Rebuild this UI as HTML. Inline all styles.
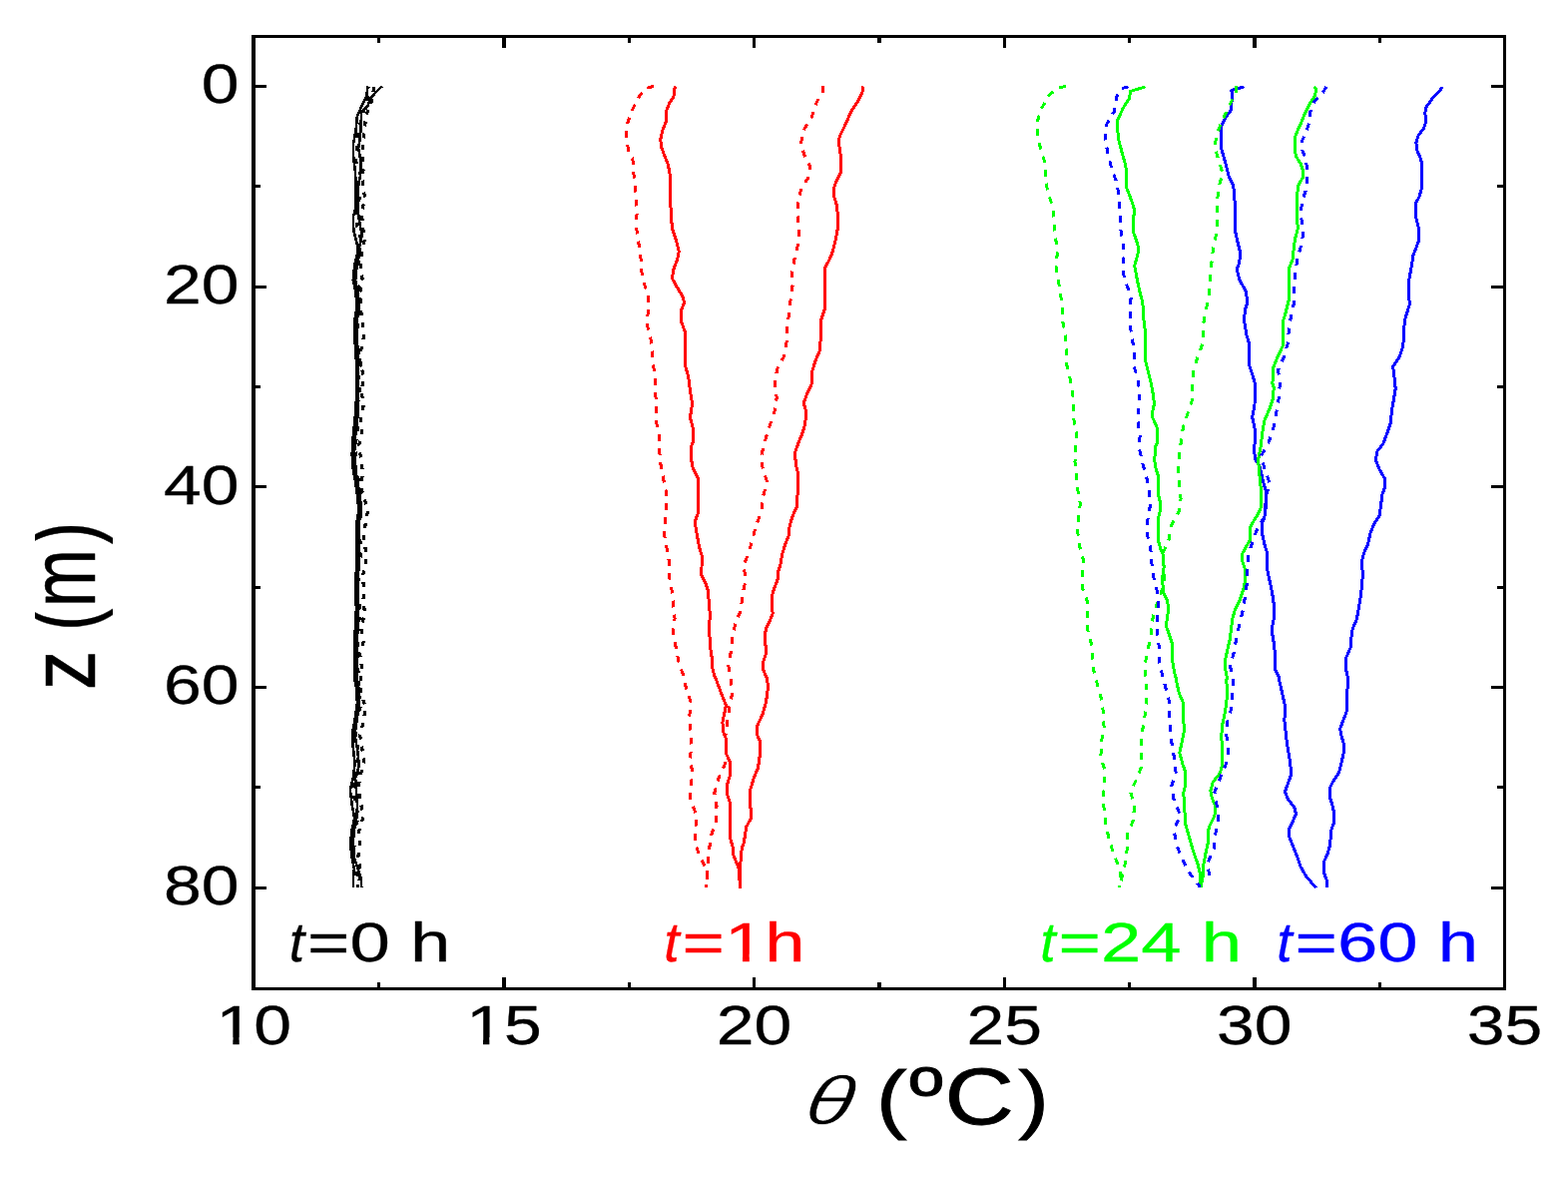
<!DOCTYPE html>
<html lang="en"><head><meta charset="utf-8">
<style>
html,body{margin:0;padding:0;background:#fff;}
body{width:1571px;height:1179px;overflow:hidden;}
svg{display:block;}
text{font-family:"Liberation Sans",Arial,Helvetica,sans-serif;}
</style></head><body>
<svg width="1571" height="1179" viewBox="0 0 1571 1179">
<rect x="0" y="0" width="1571" height="1179" fill="#fff"/>
<g fill="none" stroke-linejoin="round" stroke-linecap="butt" shape-rendering="crispEdges">
<path d="M370.1 86.9 L367.8 102.1 L362.7 116.3 L359.0 130.6 L358.1 143.0 L355.9 157.3 L358.8 168.9 L361.0 175.1 L358.9 187.6 L360.6 198.2 L356.8 212.5 L357.4 226.7 L361.3 239.2 L360.7 253.5 L359.2 265.9 L355.6 278.4 L357.0 280.7 L361.4 293.2 L359.8 309.2 L359.2 323.4 L357.1 337.7 L359.5 351.9 L361.8 362.6 L359.4 376.9 L361.0 391.1 L358.2 407.2 L358.8 419.6 L358.9 433.9 L355.6 446.3 L357.0 458.8 L356.0 473.1 L357.7 473.6 L361.6 487.8 L361.0 502.1 L363.3 512.7 L359.1 523.4 L360.4 535.9 L362.2 551.9 L359.9 566.2 L359.9 576.9 L357.5 591.1 L359.7 601.8 L361.5 614.3 L358.4 628.5 L359.3 642.8 L357.1 655.2 L358.6 667.7 L360.0 679.3 L359.9 695.3 L361.4 707.8 L356.5 723.8 L356.4 736.3 L358.8 750.6 L357.8 763.0 L358.2 775.5 L352.9 789.7 L355.7 804.0 L359.7 818.2 L354.6 832.5 L355.3 845.0 L354.2 859.2 L357.7 873.5 L358.8 889.1" stroke="#000" stroke-width="2.8" stroke-dasharray="5 8" stroke-dashoffset="4"/>
<path d="M374.8 86.9 L372.1 102.1 L366.3 116.3 L365.6 130.6 L363.1 143.0 L363.3 157.3 L364.6 168.9 L362.3 175.1 L364.1 187.6 L365.5 198.2 L362.7 212.5 L363.2 226.7 L365.5 239.2 L362.3 253.5 L361.5 265.9 L363.0 278.4 L362.8 280.7 L360.6 293.2 L361.5 309.2 L363.2 323.4 L364.5 337.7 L361.5 351.9 L360.6 362.6 L364.5 376.9 L362.3 391.1 L364.1 407.2 L361.5 419.6 L362.3 433.9 L359.7 446.3 L361.5 458.8 L363.4 473.1 L363.5 473.6 L361.5 487.8 L365.9 502.1 L368.3 512.7 L366.5 523.4 L364.1 535.9 L366.4 551.9 L366.5 566.2 L363.2 576.9 L364.9 591.1 L363.8 601.8 L365.7 614.3 L361.5 628.5 L364.3 642.8 L360.6 655.2 L362.3 667.7 L361.5 679.3 L361.5 695.3 L366.4 707.8 L363.9 723.8 L360.6 736.3 L363.0 750.6 L364.4 763.0 L361.5 775.5 L358.8 789.7 L361.5 804.0 L363.9 818.2 L359.7 832.5 L360.3 845.0 L358.8 859.2 L361.5 873.5 L358.8 889.1" stroke="#000" stroke-width="3.2" stroke-dasharray="5 7"/>
<path d="M368.6 86.4 L367.3 96.7 L361.5 108.3 L357.9 116.3 L356.6 130.6 L353.8 144.8 L354.3 159.1 L356.1 173.3 L356.6 191.1 L356.6 207.2 L353.8 217.8 L354.3 230.3 L357.4 242.8 L358.8 251.7 L355.2 265.9 L353.8 280.7 L356.6 293.2 L357.4 309.2 L355.2 321.7 L355.6 341.2 L357.0 362.6 L357.0 380.4 L357.0 398.2 L356.3 412.5 L354.9 426.7 L353.4 441.0 L352.7 455.2 L353.8 469.5 L356.3 484.2 L358.4 498.5 L359.3 512.7 L357.5 523.4 L357.0 541.2 L357.5 555.5 L357.5 569.7 L355.9 576.9 L355.9 594.7 L357.0 608.9 L356.3 623.2 L355.2 641.0 L355.6 658.8 L355.2 679.3 L357.4 690.9 L357.9 704.2 L355.6 720.3 L353.1 734.5 L353.8 748.8 L355.6 764.8 L353.8 779.1 L350.9 791.5 L352.7 805.8 L355.2 820.0 L352.2 832.5 L351.3 845.0 L352.2 857.4 L354.9 869.9 L354.0 878.8 L354.0 889.1" stroke="#000" stroke-width="2.6"/>
<path d="M382.8 86.4 L376.6 92.3 L371.2 98.5 L368.6 105.6 L361.8 112.7 L361.8 123.4 L360.9 137.7 L359.1 148.4 L361.8 162.6 L360.9 176.9 L358.8 185.8 L358.2 198.2 L358.5 208.9 L360.0 221.4 L362.7 235.6 L360.0 248.1 L359.3 258.8 L357.2 269.5 L356.1 280.7 L358.8 293.2 L359.7 309.2 L357.5 321.7 L357.9 341.2 L359.3 362.6 L358.8 380.4 L359.1 398.2 L358.6 412.5 L357.2 426.7 L355.7 441.0 L355.0 455.2 L356.1 469.5 L358.6 484.2 L360.7 498.5 L361.6 512.7 L359.8 523.4 L359.3 541.2 L359.8 555.5 L359.8 569.7 L358.2 576.9 L358.2 594.7 L359.3 608.9 L358.6 623.2 L357.5 641.0 L357.9 658.8 L357.5 679.3 L359.7 690.9 L359.7 707.8 L356.9 725.6 L355.5 736.3 L358.1 750.6 L359.8 766.6 L356.1 779.1 L357.0 793.3 L358.1 807.6 L357.1 821.8 L354.5 832.5 L353.6 845.0 L354.9 859.2 L359.1 871.7 L361.6 878.8 L362.3 889.1" stroke="#000" stroke-width="2.6"/>
<path d="M676.3 86.4 L674.9 96.7 L670.4 103.9 L667.7 111.0 L667.4 121.7 L663.8 130.6 L661.8 139.5 L662.4 146.6 L665.6 155.6 L669.2 164.5 L671.3 175.2 L671.6 198.3 L672.5 219.7 L674.0 230.4 L677.5 241.1 L680.2 251.8 L678.4 260.7 L674.9 269.6 L673.4 278.9 L678.4 287.8 L683.8 296.7 L685.6 303.0 L682.3 311.0 L682.3 321.7 L686.4 332.4 L686.8 348.4 L686.4 366.2 L689.6 376.9 L691.4 391.2 L693.2 401.9 L693.0 409.0 L691.4 417.9 L694.1 428.6 L694.8 441.1 L692.3 448.2 L693.2 466.1 L697.1 475.0 L699.5 478.9 L699.8 512.8 L696.2 522.6 L698.0 534.2 L700.7 548.4 L703.4 557.3 L703.0 568.0 L702.5 575.2 L706.9 584.1 L709.3 591.2 L710.5 605.5 L711.4 616.1 L710.5 626.8 L711.4 646.4 L713.2 658.9 L714.1 671.4 L716.7 679.4 L717.6 680.9 L721.2 690.7 L727.4 706.7 L723.9 723.7 L724.8 733.5 L727.6 740.6 L727.6 754.9 L731.5 763.8 L731.5 776.2 L728.3 786.9 L728.7 795.8 L731.2 803.4 L731.5 820.7 L731.5 827.8 L732.0 841.0 L734.3 849.2 L734.8 856.3 L738.9 866.5 L740.9 871.6 L741.1 889.7" stroke="#ff0000" stroke-width="3.0"/>
<path d="M864.7 86.4 L863.8 93.2 L859.3 102.1 L853.1 111.0 L846.8 125.3 L841.5 135.9 L840.1 141.3 L841.5 150.2 L842.7 159.1 L842.4 172.5 L837.9 181.4 L835.3 189.4 L835.6 196.5 L838.8 207.2 L839.7 226.8 L837.4 239.3 L834.4 251.8 L830.8 260.7 L826.7 267.8 L826.4 309.2 L822.8 319.9 L822.4 337.7 L821.0 352.0 L816.5 362.7 L813.9 371.6 L813.5 384.1 L808.5 394.8 L805.3 403.7 L807.6 412.6 L806.7 425.1 L803.2 435.8 L799.6 444.7 L796.4 453.6 L797.5 466.1 L799.3 473.2 L799.6 475.3 L798.7 507.4 L794.3 516.3 L791.1 527.0 L790.4 535.9 L786.3 546.6 L783.6 555.6 L782.2 564.5 L780.0 571.6 L779.1 580.5 L775.6 589.4 L773.2 598.3 L773.4 610.8 L774.3 614.4 L770.7 623.3 L767.2 630.4 L766.1 642.9 L767.5 648.2 L767.2 655.4 L764.3 664.3 L764.9 671.4 L768.4 679.4 L768.4 680.9 L769.7 687.1 L767.5 703.2 L764.0 715.6 L758.6 727.2 L758.3 735.3 L761.3 742.4 L761.3 756.6 L759.5 769.1 L755.1 779.8 L751.9 790.5 L751.4 808.5 L752.6 810.5 L752.4 819.7 L747.5 828.8 L746.5 837.0 L745.0 845.1 L743.2 849.2 L742.6 859.4 L741.4 866.5 L741.1 871.6 L741.1 889.7" stroke="#ff0000" stroke-width="3.0"/>
<path d="M654.9 86.4 L646.3 88.7 L639.2 98.5 L632.1 112.8 L628.2 125.3 L627.6 139.5 L630.3 153.8 L633.9 159.1 L634.4 169.8 L636.2 184.1 L637.4 198.3 L638.1 212.6 L637.6 226.8 L638.9 239.3 L641.9 253.6 L642.2 267.8 L644.2 280.7 L649.0 295.0 L649.9 309.2 L647.8 323.5 L651.7 337.7 L653.5 352.0 L654.7 366.2 L656.5 380.5 L656.7 394.8 L657.9 409.0 L657.4 421.5 L660.2 435.8 L660.6 450.0 L661.8 464.3 L664.5 478.5 L664.5 478.9 L667.4 493.2 L667.4 507.4 L666.5 521.7 L665.6 535.9 L668.1 549.3 L670.4 562.7 L670.4 576.9 L673.1 591.2 L674.5 605.5 L676.1 619.7 L674.0 634.0 L677.2 648.2 L679.8 662.5 L684.7 676.7 L687.3 688.9 L692.3 704.1 L690.5 719.2 L691.8 732.6 L692.7 747.7 L691.3 760.2 L693.9 774.5 L691.5 791.2 L692.0 802.9 L698.2 817.1 L696.6 830.9 L696.6 845.1 L701.7 859.4 L707.8 870.6 L708.8 879.7 L707.6 888.9" stroke="#ff0000" stroke-width="3.0" stroke-dasharray="6.8 7.2"/>
<path d="M824.6 86.4 L824.2 93.2 L818.3 102.1 L813.0 118.1 L805.0 130.6 L802.3 144.9 L806.7 157.3 L811.2 166.2 L810.7 176.9 L803.2 187.6 L799.6 201.9 L798.7 214.4 L801.0 230.4 L799.6 244.7 L796.1 258.9 L793.4 273.2 L794.3 284.3 L792.1 300.3 L790.7 314.6 L788.0 328.8 L788.0 343.1 L785.4 357.3 L778.6 369.8 L776.4 384.1 L778.2 398.3 L775.9 412.6 L771.1 426.8 L766.6 441.1 L763.1 455.4 L764.0 467.8 L768.4 482.5 L764.3 498.5 L763.1 512.8 L757.7 525.3 L754.2 539.5 L749.7 554.7 L745.3 566.2 L747.0 582.3 L743.5 596.5 L742.6 610.8 L737.2 623.3 L733.7 637.5 L732.2 653.6 L729.6 666.1 L732.2 678.5 L732.8 681.8 L733.3 696.0 L731.0 706.7 L728.7 723.7 L726.9 737.0 L727.6 751.3 L726.2 765.6 L719.8 779.8 L715.8 794.1 L718.0 807.5 L717.7 821.7 L712.9 836.0 L710.6 850.2 L709.5 864.4 L708.3 871.6 L708.8 879.7 L707.6 888.9" stroke="#ff0000" stroke-width="3.0" stroke-dasharray="6.8 7.2"/>
<path d="M1246.4 86.9 L1233.9 90.5 L1234.4 98.5 L1233.0 111.0 L1227.6 118.1 L1223.2 127.0 L1223.5 148.4 L1227.6 162.7 L1231.2 176.9 L1235.7 185.8 L1237.1 201.9 L1237.4 230.4 L1239.6 241.1 L1242.4 251.8 L1241.9 262.5 L1239.2 269.6 L1241.9 280.7 L1248.1 291.4 L1249.9 303.0 L1247.2 311.0 L1246.7 321.7 L1249.0 335.9 L1251.7 344.9 L1251.7 366.2 L1255.3 376.9 L1257.4 384.1 L1257.0 405.5 L1254.7 417.9 L1257.0 428.6 L1257.6 441.1 L1256.2 450.0 L1257.9 460.7 L1262.4 467.8 L1265.1 480.7 L1268.6 493.2 L1268.6 505.6 L1266.8 518.1 L1264.2 525.3 L1264.5 534.2 L1266.8 544.9 L1269.5 553.8 L1269.9 571.6 L1272.2 582.3 L1274.5 593.0 L1276.3 605.5 L1276.7 617.9 L1274.9 626.8 L1274.9 635.8 L1276.7 646.4 L1277.5 658.9 L1277.9 671.4 L1282.0 679.4 L1281.6 680.9 L1284.7 694.3 L1287.9 709.4 L1286.8 721.0 L1288.2 733.5 L1289.6 745.9 L1291.8 758.4 L1293.2 769.1 L1293.2 777.1 L1290.0 786.0 L1287.3 793.2 L1290.9 801.2 L1297.1 809.2 L1298.4 815.5 L1295.4 822.6 L1291.8 829.7 L1291.8 838.6 L1295.4 847.5 L1299.8 858.2 L1303.4 868.9 L1308.7 877.8 L1318.5 889.4" stroke="#0000ff" stroke-width="3.0"/>
<path d="M1445.1 86.9 L1442.4 91.4 L1435.3 98.5 L1429.0 107.4 L1427.8 112.8 L1428.7 121.7 L1426.4 128.8 L1421.0 135.9 L1418.9 143.1 L1419.6 150.2 L1422.8 157.3 L1424.9 164.5 L1424.9 176.9 L1424.2 189.4 L1421.9 197.4 L1418.3 203.7 L1418.3 216.1 L1420.1 223.3 L1421.9 230.4 L1421.5 241.1 L1418.9 248.2 L1416.0 255.4 L1414.4 266.1 L1411.7 280.7 L1412.1 305.6 L1408.2 318.1 L1406.4 330.6 L1405.9 346.6 L1402.3 357.3 L1395.7 367.1 L1396.9 376.9 L1398.2 389.4 L1396.1 401.9 L1394.3 412.6 L1393.4 423.3 L1389.8 434.0 L1385.7 444.7 L1380.0 451.8 L1378.2 460.7 L1381.8 469.6 L1387.1 478.9 L1387.7 487.8 L1385.0 495.0 L1383.6 505.6 L1382.2 516.3 L1376.4 525.3 L1372.9 534.2 L1370.7 544.9 L1366.6 553.8 L1364.3 562.7 L1365.2 573.4 L1364.9 584.1 L1363.1 598.3 L1361.3 609.0 L1359.5 619.7 L1355.1 630.4 L1353.6 641.1 L1353.3 648.2 L1348.3 659.8 L1348.3 669.6 L1350.6 679.4 L1350.6 680.9 L1349.7 694.3 L1349.4 712.1 L1346.1 721.0 L1342.6 729.9 L1344.0 737.0 L1346.5 745.9 L1346.1 754.9 L1344.0 763.8 L1341.7 773.6 L1336.3 781.6 L1332.2 789.6 L1332.2 797.6 L1334.9 806.5 L1336.9 815.5 L1336.3 824.4 L1333.3 833.3 L1332.8 845.8 L1330.1 855.6 L1326.2 863.6 L1326.5 874.3 L1329.2 881.4 L1329.6 889.4" stroke="#0000ff" stroke-width="3.0"/>
<path d="M1147.4 86.9 L1132.6 91.4 L1131.4 98.5 L1125.2 108.3 L1119.5 120.8 L1120.2 137.7 L1123.4 150.2 L1126.9 162.7 L1128.7 171.6 L1128.4 187.6 L1131.4 194.8 L1135.8 207.2 L1136.7 212.6 L1135.5 217.9 L1135.5 232.2 L1138.5 241.1 L1140.8 248.2 L1139.8 255.4 L1136.7 266.1 L1139.4 280.7 L1143.0 296.7 L1144.8 302.1 L1145.7 318.1 L1147.4 332.4 L1148.0 362.7 L1151.0 375.2 L1153.7 385.8 L1155.8 398.3 L1156.3 405.5 L1154.6 412.6 L1154.6 417.9 L1159.0 427.7 L1159.0 444.7 L1157.2 448.2 L1156.9 462.5 L1158.1 469.6 L1160.8 478.0 L1160.8 496.7 L1162.6 503.9 L1162.2 511.9 L1160.4 519.9 L1160.4 541.3 L1162.6 549.3 L1165.3 555.6 L1166.1 568.0 L1164.7 578.7 L1165.3 593.0 L1169.7 601.9 L1170.6 610.8 L1169.4 619.7 L1168.3 626.8 L1171.5 635.8 L1174.7 645.6 L1174.7 662.5 L1176.5 673.2 L1178.3 679.4 L1178.3 680.9 L1181.3 694.3 L1185.8 705.0 L1186.1 733.5 L1184.0 744.2 L1181.8 754.0 L1184.9 765.6 L1187.5 772.7 L1187.5 786.9 L1185.8 794.1 L1186.6 808.3 L1187.9 826.1 L1192.0 840.4 L1195.6 852.9 L1200.0 865.4 L1202.2 874.3 L1202.7 889.2" stroke="#00ff00" stroke-width="3.0"/>
<path d="M1316.7 86.4 L1318.5 89.6 L1317.6 95.8 L1312.3 103.9 L1307.8 112.8 L1303.4 123.5 L1299.8 131.5 L1297.1 138.6 L1297.1 150.2 L1298.9 157.3 L1303.0 163.6 L1306.0 172.5 L1305.2 177.8 L1300.7 185.8 L1299.5 196.5 L1299.5 223.3 L1300.7 227.7 L1298.0 237.5 L1296.2 248.2 L1295.4 258.9 L1291.8 267.8 L1291.3 278.9 L1291.3 300.3 L1288.2 312.8 L1285.6 321.7 L1285.2 346.6 L1280.2 357.3 L1275.8 368.0 L1274.9 384.1 L1276.1 387.6 L1275.8 398.3 L1272.2 409.0 L1266.8 421.5 L1264.7 434.0 L1263.3 446.4 L1260.6 460.7 L1261.5 471.4 L1262.4 480.7 L1263.8 495.0 L1263.8 507.4 L1260.6 514.6 L1256.2 521.7 L1252.6 527.9 L1252.6 540.4 L1248.1 548.4 L1244.2 555.6 L1244.9 562.7 L1247.8 571.6 L1247.8 580.5 L1245.5 591.2 L1241.9 601.9 L1237.4 610.8 L1234.8 619.7 L1233.5 630.4 L1232.1 641.1 L1230.0 650.0 L1227.6 660.7 L1227.6 669.6 L1229.4 679.4 L1228.9 680.9 L1229.4 697.8 L1227.6 712.1 L1225.0 724.6 L1223.7 737.0 L1224.6 751.3 L1224.6 765.6 L1222.3 774.5 L1215.2 783.4 L1212.8 792.3 L1214.3 799.4 L1217.8 807.4 L1216.9 817.2 L1211.6 827.9 L1210.4 833.3 L1210.4 844.0 L1208.0 854.7 L1205.9 865.4 L1205.4 876.1 L1203.2 889.2" stroke="#00ff00" stroke-width="3.0"/>
<path d="M1067.8 86.4 L1060.1 88.2 L1051.2 95.0 L1043.2 109.2 L1038.7 123.5 L1040.1 137.7 L1043.2 152.0 L1048.2 166.2 L1047.3 180.5 L1050.7 194.8 L1055.3 209.0 L1056.2 223.3 L1057.4 237.5 L1059.6 251.8 L1057.8 266.1 L1062.4 293.2 L1064.2 307.4 L1064.6 321.7 L1067.6 335.9 L1068.5 350.2 L1068.5 364.5 L1071.7 377.8 L1074.7 392.1 L1075.6 406.3 L1075.8 419.7 L1078.8 434.0 L1077.4 448.2 L1077.0 462.5 L1079.7 490.5 L1082.4 504.8 L1080.2 518.1 L1079.7 532.4 L1081.5 546.6 L1085.4 560.9 L1084.5 575.2 L1084.7 589.4 L1089.5 602.8 L1090.0 617.0 L1089.5 630.4 L1093.6 645.6 L1094.5 658.9 L1096.1 673.2 L1099.8 687.1 L1103.8 701.4 L1105.6 715.6 L1106.1 729.9 L1103.4 743.3 L1102.9 758.4 L1107.0 771.8 L1106.8 786.9 L1104.7 800.3 L1106.8 814.6 L1108.2 827.9 L1111.8 843.1 L1116.2 856.4 L1121.9 870.7 L1123.0 877.8 L1121.2 888.9" stroke="#00ff00" stroke-width="3.0" stroke-dasharray="6.8 7.2"/>
<path d="M1238.3 86.4 L1238.3 93.2 L1233.0 103.0 L1225.9 118.1 L1219.6 132.4 L1216.9 146.6 L1221.0 160.9 L1225.0 173.4 L1221.0 187.6 L1219.3 203.7 L1219.6 217.9 L1219.6 230.4 L1216.1 244.7 L1214.3 258.9 L1212.0 287.8 L1210.4 302.1 L1206.8 314.6 L1205.4 328.8 L1205.4 343.1 L1200.0 357.3 L1195.6 371.6 L1194.7 385.8 L1194.7 400.1 L1190.2 413.5 L1185.4 427.7 L1183.4 442.0 L1181.3 455.4 L1180.4 469.6 L1180.8 471.8 L1181.3 486.0 L1183.1 499.4 L1181.3 511.9 L1173.6 526.1 L1171.1 540.4 L1165.3 553.8 L1166.1 568.0 L1167.0 581.4 L1162.6 596.5 L1157.2 609.9 L1154.0 624.2 L1152.8 638.4 L1149.6 652.7 L1146.9 666.9 L1148.0 678.5 L1148.7 681.8 L1148.7 696.0 L1148.0 709.4 L1146.2 723.7 L1143.3 737.9 L1143.5 752.2 L1144.2 766.4 L1139.1 779.8 L1132.6 793.2 L1136.7 807.4 L1135.0 822.6 L1129.3 836.0 L1129.3 850.2 L1127.3 864.5 L1124.3 877.8 L1121.2 888.9" stroke="#00ff00" stroke-width="3.0" stroke-dasharray="6.8 7.2"/>
<path d="M1130.5 86.9 L1123.4 88.7 L1118.9 96.7 L1116.2 111.9 L1108.2 125.3 L1107.3 139.5 L1110.0 153.8 L1113.6 168.0 L1118.6 182.3 L1121.2 196.5 L1122.1 210.8 L1122.1 225.1 L1124.3 239.3 L1126.6 253.6 L1124.6 267.8 L1126.9 281.6 L1133.2 295.0 L1132.6 309.2 L1131.9 323.5 L1134.1 337.7 L1136.4 352.0 L1135.8 366.2 L1140.3 379.6 L1141.7 393.9 L1140.8 408.1 L1139.9 421.5 L1142.1 435.8 L1141.6 450.0 L1144.8 464.3 L1148.7 477.6 L1148.7 478.0 L1151.5 492.3 L1152.4 506.5 L1149.8 520.8 L1149.2 535.1 L1152.8 548.4 L1153.7 562.7 L1155.5 576.9 L1159.0 591.2 L1160.3 605.5 L1159.9 619.7 L1159.4 634.0 L1161.3 648.2 L1161.3 661.6 L1164.4 675.9 L1167.9 688.9 L1171.5 703.2 L1171.9 718.3 L1172.4 731.7 L1174.2 745.9 L1176.5 759.3 L1178.1 773.6 L1173.6 787.8 L1176.5 803.0 L1182.5 816.3 L1176.5 830.6 L1177.7 844.0 L1184.0 859.1 L1190.2 872.5 L1200.9 886.7 L1202.2 888.9" stroke="#0000ff" stroke-width="3.0" stroke-dasharray="6.8 7.2"/>
<path d="M1328.7 86.9 L1325.7 92.3 L1316.7 102.1 L1312.6 112.8 L1312.3 121.7 L1308.4 132.4 L1303.7 143.1 L1303.9 148.4 L1308.4 159.1 L1310.0 175.2 L1308.7 189.4 L1304.3 202.8 L1303.4 217.0 L1306.0 230.4 L1304.3 243.8 L1299.8 258.9 L1296.2 287.8 L1296.8 302.1 L1293.9 314.6 L1291.3 328.8 L1290.5 343.1 L1286.4 357.3 L1280.6 370.7 L1282.3 385.0 L1281.1 399.2 L1278.8 413.5 L1276.1 427.7 L1271.6 442.0 L1263.8 456.3 L1266.8 469.6 L1267.7 471.8 L1272.2 484.3 L1268.6 496.7 L1266.8 518.1 L1260.6 527.0 L1255.6 540.4 L1251.3 553.8 L1249.6 568.0 L1249.6 582.3 L1247.6 596.5 L1245.5 610.8 L1241.9 625.1 L1238.9 638.4 L1236.2 653.6 L1232.5 666.9 L1234.8 678.5 L1235.7 681.8 L1234.4 696.0 L1233.9 709.4 L1229.4 723.7 L1228.9 737.0 L1230.8 751.3 L1228.2 765.6 L1222.3 779.8 L1216.9 793.2 L1219.3 807.4 L1221.0 821.7 L1217.5 836.0 L1216.1 850.2 L1210.4 863.6 L1211.1 874.3 L1214.3 881.4" stroke="#0000ff" stroke-width="3.0" stroke-dasharray="6.8 7.2"/>
</g>
<g stroke="#000" fill="none" shape-rendering="crispEdges">
<rect x="252.0" y="35.0" width="1257.0" height="3" fill="#000" stroke="none"/>
<rect x="252.0" y="989.0" width="1257.0" height="3" fill="#000" stroke="none"/>
<rect x="252" y="35" width="4" height="957" fill="#000" stroke="none"/>
<rect x="1505.5" y="35" width="3.5" height="957" fill="#000" stroke="none"/>
<rect x="256" y="84.9" width="11" height="3" fill="#000" stroke="none"/>
<rect x="1494.0" y="84.9" width="12" height="3" fill="#000" stroke="none"/>
<rect x="256" y="185.3" width="5" height="3" fill="#000" stroke="none"/>
<rect x="1500.0" y="185.3" width="6" height="3" fill="#000" stroke="none"/>
<rect x="256" y="285.6" width="11" height="3" fill="#000" stroke="none"/>
<rect x="1494.0" y="285.6" width="12" height="3" fill="#000" stroke="none"/>
<rect x="256" y="386.0" width="5" height="3" fill="#000" stroke="none"/>
<rect x="1500.0" y="386.0" width="6" height="3" fill="#000" stroke="none"/>
<rect x="256" y="486.4" width="11" height="3" fill="#000" stroke="none"/>
<rect x="1494.0" y="486.4" width="12" height="3" fill="#000" stroke="none"/>
<rect x="256" y="586.7" width="5" height="3" fill="#000" stroke="none"/>
<rect x="1500.0" y="586.7" width="6" height="3" fill="#000" stroke="none"/>
<rect x="256" y="687.1" width="11" height="3" fill="#000" stroke="none"/>
<rect x="1494.0" y="687.1" width="12" height="3" fill="#000" stroke="none"/>
<rect x="256" y="787.4" width="5" height="3" fill="#000" stroke="none"/>
<rect x="1500.0" y="787.4" width="6" height="3" fill="#000" stroke="none"/>
<rect x="256" y="887.8" width="11" height="3" fill="#000" stroke="none"/>
<rect x="1494.0" y="887.8" width="12" height="3" fill="#000" stroke="none"/>
<rect x="377.8" y="38.0" width="3.4" height="5" fill="#000" stroke="none"/>
<rect x="377.8" y="984.0" width="3.4" height="5" fill="#000" stroke="none"/>
<rect x="503.2" y="38.0" width="3.4" height="10" fill="#000" stroke="none"/>
<rect x="503.2" y="979.0" width="3.4" height="10" fill="#000" stroke="none"/>
<rect x="628.5" y="38.0" width="3.4" height="5" fill="#000" stroke="none"/>
<rect x="628.5" y="984.0" width="3.4" height="5" fill="#000" stroke="none"/>
<rect x="753.8" y="38.0" width="3.4" height="10" fill="#000" stroke="none"/>
<rect x="753.8" y="979.0" width="3.4" height="10" fill="#000" stroke="none"/>
<rect x="879.1" y="38.0" width="3.4" height="5" fill="#000" stroke="none"/>
<rect x="879.1" y="984.0" width="3.4" height="5" fill="#000" stroke="none"/>
<rect x="1004.5" y="38.0" width="3.4" height="10" fill="#000" stroke="none"/>
<rect x="1004.5" y="979.0" width="3.4" height="10" fill="#000" stroke="none"/>
<rect x="1129.8" y="38.0" width="3.4" height="5" fill="#000" stroke="none"/>
<rect x="1129.8" y="984.0" width="3.4" height="5" fill="#000" stroke="none"/>
<rect x="1255.1" y="38.0" width="3.4" height="10" fill="#000" stroke="none"/>
<rect x="1255.1" y="979.0" width="3.4" height="10" fill="#000" stroke="none"/>
<rect x="1380.5" y="38.0" width="3.4" height="5" fill="#000" stroke="none"/>
<rect x="1380.5" y="984.0" width="3.4" height="5" fill="#000" stroke="none"/>
</g>
<text transform="translate(239.6 103.0) scale(1.225 1)" font-size="55.4" text-anchor="end" fill="#000" stroke="#000" stroke-width="0.3">0</text>
<text transform="translate(239.6 303.7) scale(1.225 1)" font-size="55.4" text-anchor="end" fill="#000" stroke="#000" stroke-width="0.3">20</text>
<text transform="translate(239.6 504.5) scale(1.225 1)" font-size="55.4" text-anchor="end" fill="#000" stroke="#000" stroke-width="0.3">40</text>
<text transform="translate(239.6 705.2) scale(1.225 1)" font-size="55.4" text-anchor="end" fill="#000" stroke="#000" stroke-width="0.3">60</text>
<text transform="translate(239.6 905.9) scale(1.225 1)" font-size="55.4" text-anchor="end" fill="#000" stroke="#000" stroke-width="0.3">80</text>
<text transform="translate(254.2 1046.2) scale(1.225 1)" font-size="55.4" text-anchor="middle" fill="#000" stroke="#000" stroke-width="0.3">10</text>
<text transform="translate(504.9 1046.2) scale(1.225 1)" font-size="55.4" text-anchor="middle" fill="#000" stroke="#000" stroke-width="0.3">15</text>
<text transform="translate(755.5 1046.2) scale(1.225 1)" font-size="55.4" text-anchor="middle" fill="#000" stroke="#000" stroke-width="0.3">20</text>
<text transform="translate(1006.2 1046.2) scale(1.225 1)" font-size="55.4" text-anchor="middle" fill="#000" stroke="#000" stroke-width="0.3">25</text>
<text transform="translate(1256.8 1046.2) scale(1.225 1)" font-size="55.4" text-anchor="middle" fill="#000" stroke="#000" stroke-width="0.3">30</text>
<text transform="translate(1507.5 1046.2) scale(1.225 1)" font-size="55.4" text-anchor="middle" fill="#000" stroke="#000" stroke-width="0.3">35</text>
<text transform="translate(289.8 962.9) scale(1.290 1)" font-size="56.2" fill="#000" stroke="#000" stroke-width="0.3"><tspan font-style="italic" textLength="11.9" lengthAdjust="spacingAndGlyphs">t</tspan><tspan dx="2.3">=0 h</tspan></text>
<text transform="translate(665.3 962.9) scale(1.290 1)" font-size="56.2" fill="#f00" stroke="#f00" stroke-width="0.3"><tspan font-style="italic" textLength="11.9" lengthAdjust="spacingAndGlyphs">t</tspan><tspan dx="2.3">=1h</tspan></text>
<text transform="translate(1042.3 962.9) scale(1.290 1)" font-size="56.2" fill="#0f0" stroke="#0f0" stroke-width="0.3"><tspan font-style="italic" textLength="11.9" lengthAdjust="spacingAndGlyphs">t</tspan><tspan dx="2.3">=24 h</tspan></text>
<text transform="translate(1279.3 962.9) scale(1.290 1)" font-size="56.2" fill="#00f" stroke="#00f" stroke-width="0.3"><tspan font-style="italic" textLength="11.9" lengthAdjust="spacingAndGlyphs">t</tspan><tspan dx="2.3">=60 h</tspan></text>
<rect x="220.63" y="1039.06" width="12.71" height="9.14" fill="#fff"/><rect x="239.70" y="1039.06" width="12.18" height="9.14" fill="#fff"/>
<rect x="471.29" y="1039.06" width="12.71" height="9.14" fill="#fff"/><rect x="490.36" y="1039.06" width="12.18" height="9.14" fill="#fff"/>
<rect x="730.48" y="955.70" width="13.51" height="9.20" fill="#fff"/><rect x="750.79" y="955.70" width="12.95" height="9.20" fill="#fff"/>
<text transform="translate(804.0 1126.0) scale(1.27 1) skewX(-9)" font-family="'Liberation Serif','DejaVu Serif',serif" font-style="italic" font-size="68.5" fill="#000" stroke="#fff" stroke-width="0.7">θ</text>
<text transform="translate(877.7 1125.8) scale(1.21 1)" font-size="76.5" fill="#000" stroke="#000" stroke-width="0.8"> (<tspan dy="-3.4" dx="2.1">º</tspan><tspan dy="3.6" dx="1.25" font-size="79.5">C</tspan><tspan dy="-0.2" dx="3.6">)</tspan></text>
<clipPath id="yc"><rect x="35" y="400" width="78" height="400"/></clipPath>
<g clip-path="url(#yc)"><text transform="translate(95.0 691.2) rotate(-90) scale(0.93 1.24)" font-size="75" fill="#000" stroke="#000" stroke-width="0.4"><tspan textLength="42.7" lengthAdjust="spacingAndGlyphs">z</tspan><tspan dx="0.1"> (</tspan><tspan dx="0.5">m</tspan><tspan dx="4.5">)</tspan></text></g>
</svg>
</body></html>
